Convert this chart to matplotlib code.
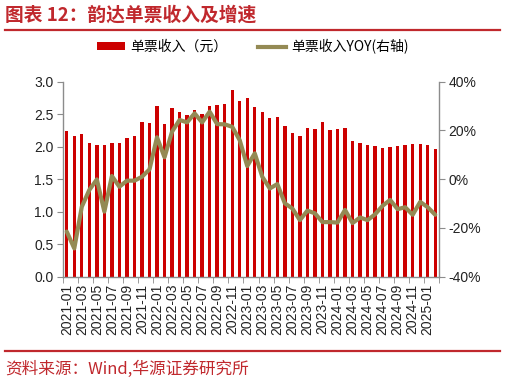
import matplotlib
matplotlib.use("Agg")
import matplotlib.pyplot as plt
from matplotlib.patches import Patch
from matplotlib.lines import Line2D
import numpy as np

plt.rcParams['font.family'] = ['Liberation Sans', 'Noto Sans CJK SC', 'DejaVu Sans']

months = [f"{y}-{m:02d}" for y in range(2021, 2026) for m in range(1, 13)][:50]

revenue = [2.24, 2.17, 2.19, 2.05, 2.03, 2.02, 2.05, 2.06, 2.14, 2.17,
           2.38, 2.36, 2.63, 2.35, 2.59, 2.53, 2.49, 2.56, 2.51, 2.63,
           2.64, 2.66, 2.88, 2.71, 2.75, 2.61, 2.54, 2.44, 2.45, 2.32,
           2.21, 2.17, 2.29, 2.28, 2.38, 2.25, 2.27, 2.29, 2.09, 2.06,
           2.03, 2.01, 1.98, 1.99, 2.01, 2.02, 2.04, 2.04, 2.03, 1.96]

yoy = [-21.5, -28.4, -11.3, -4.4, -0.1, -13.3, 1.3, -3.1, -0.6, -0.6,
       1.0, 4.0, 17.2, 9.0, 19.5, 24.3, 23.3, 27.0, 23.3, 27.7,
       22.6, 22.5, 21.5, 16.0, 5.4, 10.6, 1.0, -3.8, -2.0, -9.9,
       -12.0, -16.8, -12.9, -14.0, -17.6, -17.6, -17.8, -12.6, -18.0, -15.7,
       -16.8, -14.4, -10.9, -8.5, -12.3, -11.5, -14.6, -9.3, -11.5, -14.6]

bar_label = "单票收入（元）"
line_label = "单票收入YOY(右轴)"
title = "图表 12：韵达单票收入及增速"
source = "资料来源：Wind,华源证券研究所"

W, H = 506, 384
fig = plt.figure(figsize=(W/100, H/100), dpi=100)

RED = '#C0282D'
BAR = '#CC0000'
LINE = '#948A54'
GRAY = '#8C8C8C'

ax = fig.add_axes([63/W, 1-276.7/H, (439-63)/W, (276.7-81.7)/H])
x = np.arange(len(months))
ax.bar(x, revenue, width=0.45, color=BAR, zorder=2)
ax.set_xlim(-0.5, len(months)-0.5)
ax.set_ylim(0, 3.0)
ax.set_yticks(np.arange(0, 3.01, 0.5))
ax.set_yticklabels([f"{v:.1f}" for v in np.arange(0, 3.01, 0.5)], fontsize=10, color='#222222')
ax.set_xticks(x[::2])
ax.set_xticklabels(months[::2], rotation=90, fontsize=10, color='#222222')
ax.set_xticks(np.arange(-0.5, len(months), 2), minor=True)
ax.tick_params(axis='x', which='major', length=0, pad=5)
ax.tick_params(axis='x', which='minor', length=4, color=GRAY, direction='out')
ax.tick_params(axis='y', length=4, color=GRAY, direction='out', pad=3)
for s in ['top', 'right']:
    ax.spines[s].set_visible(False)
for s in ['left', 'bottom']:
    ax.spines[s].set_color(GRAY)
    ax.spines[s].set_linewidth(1.0)

ax2 = ax.twinx()
ax2.plot(x, yoy, color=LINE, lw=3.0, solid_joinstyle='round', solid_capstyle='round', zorder=3)
ax2.set_ylim(-40, 40)
ax2.set_yticks(np.arange(-40, 41, 20))
ax2.set_yticklabels([f"{v}%" for v in range(-40, 41, 20)], fontsize=10, color='#222222')
ax2.tick_params(axis='y', length=4, color=GRAY, direction='out', pad=3)
for s in ['top', 'left', 'bottom']:
    ax2.spines[s].set_visible(False)
ax2.spines['right'].set_color(GRAY)
ax2.spines['right'].set_linewidth(1.0)

leg_prop = {'family': ['Noto Sans CJK SC', 'Liberation Sans'], 'size': 10}
leg1 = fig.legend(handles=[Patch(facecolor=BAR, edgecolor='none', label=bar_label)],
                  loc='center left', bbox_to_anchor=(97/W, 1-47/H), frameon=False,
                  prop=leg_prop, handlelength=2.0, handletextpad=0.4, handleheight=0.55,
                  borderpad=0, borderaxespad=0)
leg2 = fig.legend(handles=[Line2D([0], [0], color=LINE, lw=3.0, label=line_label)],
                  loc='center left', bbox_to_anchor=(258/W, 1-47/H), frameon=False,
                  prop=leg_prop, handlelength=2.0, handletextpad=0.4,
                  borderpad=0, borderaxespad=0)

fig.text(5/W, 1-15/H, title, fontsize=13.5, fontweight='bold', color=RED,
         family=['Noto Sans CJK SC'], va='center', ha='left')
fig.add_artist(Line2D([5/W, 500/W], [1-30/H, 1-30/H], color=RED, lw=1.6))
fig.add_artist(Line2D([5/W, 500/W], [1-351/H, 1-351/H], color=RED, lw=1.6))
fig.text(5/W, 1-369/H, source, fontsize=12, color=RED,
         family=['Noto Sans CJK SC'], va='center', ha='left')

fig.savefig('out.png', dpi=100)
